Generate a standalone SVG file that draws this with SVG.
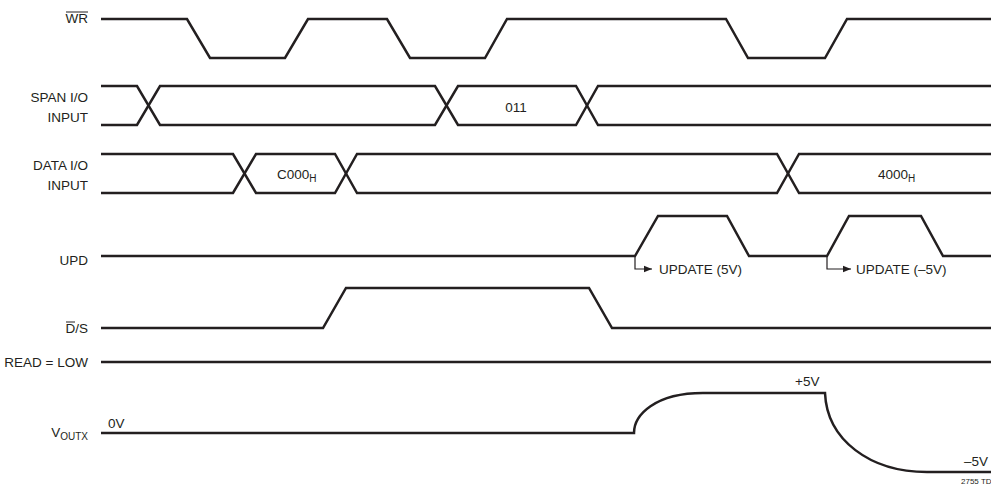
<svg xmlns="http://www.w3.org/2000/svg" width="991" height="493" viewBox="0 0 991 493">
<defs>
<style>
.sig{fill:none;stroke:#231f20;stroke-width:2.5;stroke-linejoin:miter}
.thin{fill:none;stroke:#231f20;stroke-width:1.2}
text{font-family:"Liberation Sans Narrow","Liberation Sans",Arial,sans-serif;font-size:13.5px;fill:#231f20}
.lbl{text-anchor:end}
.small{font-size:8px}
</style>
<marker id="arr" viewBox="0 0 10 10" refX="10" refY="5" markerWidth="10" markerHeight="8" markerUnits="userSpaceOnUse" orient="auto">
<path d="M0,1 L10,5 L0,9 Z" fill="#231f20"/>
</marker>
</defs>
<rect width="991" height="493" fill="#fff"/>

<g id="wr">
<text class="lbl" x="88" y="23">WR</text>
<line x1="66" y1="12" x2="88" y2="12" stroke="#231f20" stroke-width="1"/>
<polyline class="sig" points="101,19 187,19 210,58 285,58 308,19 387,19 410,58 485,58 507,19 726,19 748,58 825,58 847,19 991,19"/>
</g>

<g id="span">
<text class="lbl" x="88" y="102">SPAN I/O</text>
<text class="lbl" x="88" y="122">INPUT</text>
<polyline class="sig" points="101,86 137,86 160,125 435,125 458,86 576,86 598,125 991,125"/>
<polyline class="sig" points="101,125 137,125 160,86 435,86 458,125 576,125 598,86 991,86"/>
<text x="516" y="112" text-anchor="middle">011</text>
</g>

<g id="data">
<text class="lbl" x="88" y="170">DATA I/O</text>
<text class="lbl" x="88" y="190">INPUT</text>
<polyline class="sig" points="101,154 233,154 256,193 335,193 357,154 777,154 799,193 991,193"/>
<polyline class="sig" points="101,193 233,193 256,154 335,154 357,193 777,193 799,154 991,154"/>
<text x="277" y="179">C000<tspan font-size="10" dy="3">H</tspan></text>
<text x="878" y="179">4000<tspan font-size="10" dy="3">H</tspan></text>
</g>

<g id="upd">
<text class="lbl" x="88" y="265">UPD</text>
<polyline class="sig" points="101,256 635,256 658,216 727,216 749,256 827,256 849,216 921,216 943,256 991,256"/>
</g>

<g id="ds">
<text class="lbl" x="88" y="333">D/S</text>
<line x1="66" y1="322" x2="75" y2="322" stroke="#231f20" stroke-width="1"/>
<polyline class="sig" points="101,328 323,328 346,288 589,288 612,328 991,328"/>
</g>

<g id="read">
<text class="lbl" x="88" y="367">READ = LOW</text>
<line class="sig" x1="101" y1="362" x2="991" y2="362"/>
</g>

<g id="vout">
<text class="lbl" x="88" y="437">V<tspan font-size="10" dy="3">OUTX</tspan></text>
<text x="108" y="428">0V</text>
<path class="sig" d="M101,433 L634,433 C634,415 655,393 703,393 L825,393 C827,440 870,472 927,472 L991,472"/>
<text x="795" y="386">+5V</text>
<text x="964" y="466">–5V</text>
<text class="small" x="961" y="484">2755 TD</text>
</g>

<g id="connectors">
<polyline class="thin" points="635,257 635,269 652,269" marker-end="url(#arr)"/>
<polyline class="thin" points="827,257 827,269 851,269" marker-end="url(#arr)"/>
<text x="659" y="274">UPDATE (5V)</text>
<text x="856" y="274">UPDATE (–5V)</text>
</g>
</svg>
